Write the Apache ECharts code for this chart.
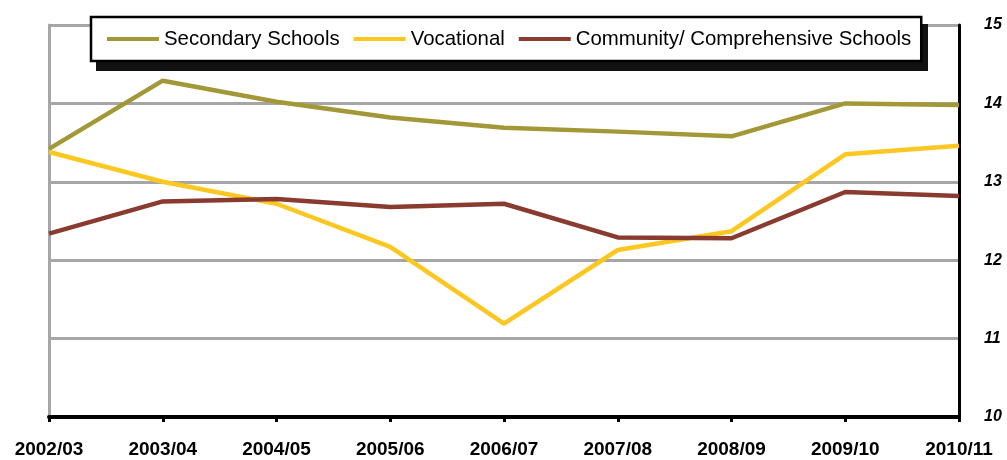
<!DOCTYPE html>
<html>
<head>
<meta charset="utf-8">
<script src="https://cdn.jsdelivr.net/npm/echarts@6/dist/echarts.min.js"></script>
<style>
html,body{margin:0;padding:0;background:#fff;}
#c{width:1007px;height:460px;}
</style>
</head>
<body>
<div id="c"></div>
<script>
const categories = ['2002/03','2003/04','2004/05','2005/06','2006/07','2007/08','2008/09','2009/10','2010/11'];
const secondary = [13.42, 14.29, 14.02, 13.82, 13.69, 13.64, 13.58, 14.00, 13.98];
const vocational = [13.38, 13.00, 12.72, 12.17, 11.19, 12.13, 12.37, 13.35, 13.46];
const community = [12.34, 12.75, 12.78, 12.68, 12.72, 12.29, 12.28, 12.87, 12.82];
const seriesNames = ['Secondary Schools', 'Vocational', 'Community/ Comprehensive Schools'];
const yTicks = [10, 11, 12, 13, 14, 15];

const font = '"Liberation Sans", Arial, sans-serif';
const chart = echarts.init(document.getElementById('c'), null, {renderer: 'canvas'});
chart.setOption({
  animation: false,
  backgroundColor: '#fff',
  grid: {left: 49, right: 48, top: 25, bottom: 43},
  graphic: [
    {type: 'rect', left: 96, top: 24, z: 3, silent: true,
      shape: {width: 832, height: 47}, style: {fill: '#111'}}
  ],
  legend: {
    left: 91, top: 17, z: 10,
    padding: [12, 10, 12, 16],
    itemGap: 14,
    itemWidth: 52, itemHeight: 4,
    icon: 'rect',
    backgroundColor: '#fff',
    borderColor: '#000', borderWidth: 2.5,
    textStyle: {fontFamily: font, fontSize: 20.4, color: '#000'},
    data: seriesNames
  },
  xAxis: {
    type: 'category', data: categories, boundaryGap: false,
    axisLine: {show: true, lineStyle: {color: '#000', width: 4}},
    axisTick: {show: true, alignWithLabel: true, length: 5, lineStyle: {color: '#000', width: 3}},
    axisLabel: {fontFamily: font, fontWeight: 'bold', fontSize: 19, color: '#000', margin: 23, interval: 0},
    splitLine: {show: false}
  },
  yAxis: [
    {
      type: 'value', position: 'right', min: yTicks[0], max: yTicks[yTicks.length-1], interval: 1,
      axisLine: {show: true, lineStyle: {color: '#000', width: 3}},
      axisTick: {show: false},
      axisLabel: {fontFamily: font, fontWeight: 'bold', fontStyle: 'italic', fontSize: 16, color: '#000', margin: 25,
        formatter: v => yTicks.includes(v) ? String(v) : ''},
      splitLine: {show: true, lineStyle: {color: '#A6A6A6', width: 3}}
    },
    {
      type: 'value', position: 'left', min: yTicks[0], max: yTicks[yTicks.length-1], interval: 1,
      axisLine: {show: true, lineStyle: {color: '#A6A6A6', width: 3}},
      axisTick: {show: false}, axisLabel: {show: false}, splitLine: {show: false}
    }
  ],
  series: [
    {name: seriesNames[0], type: 'line', data: secondary, symbol: 'none', color: '#A39838',
      lineStyle: {width: 4.5, color: '#A39838'}},
    {name: seriesNames[1], type: 'line', data: vocational, symbol: 'none', color: '#FCC720',
      lineStyle: {width: 4.5, color: '#FCC720'}},
    {name: seriesNames[2], type: 'line', data: community, symbol: 'none', color: '#8A3B30',
      lineStyle: {width: 4.5, color: '#8A3B30'}}
  ]
});
</script>
</body>
</html>
